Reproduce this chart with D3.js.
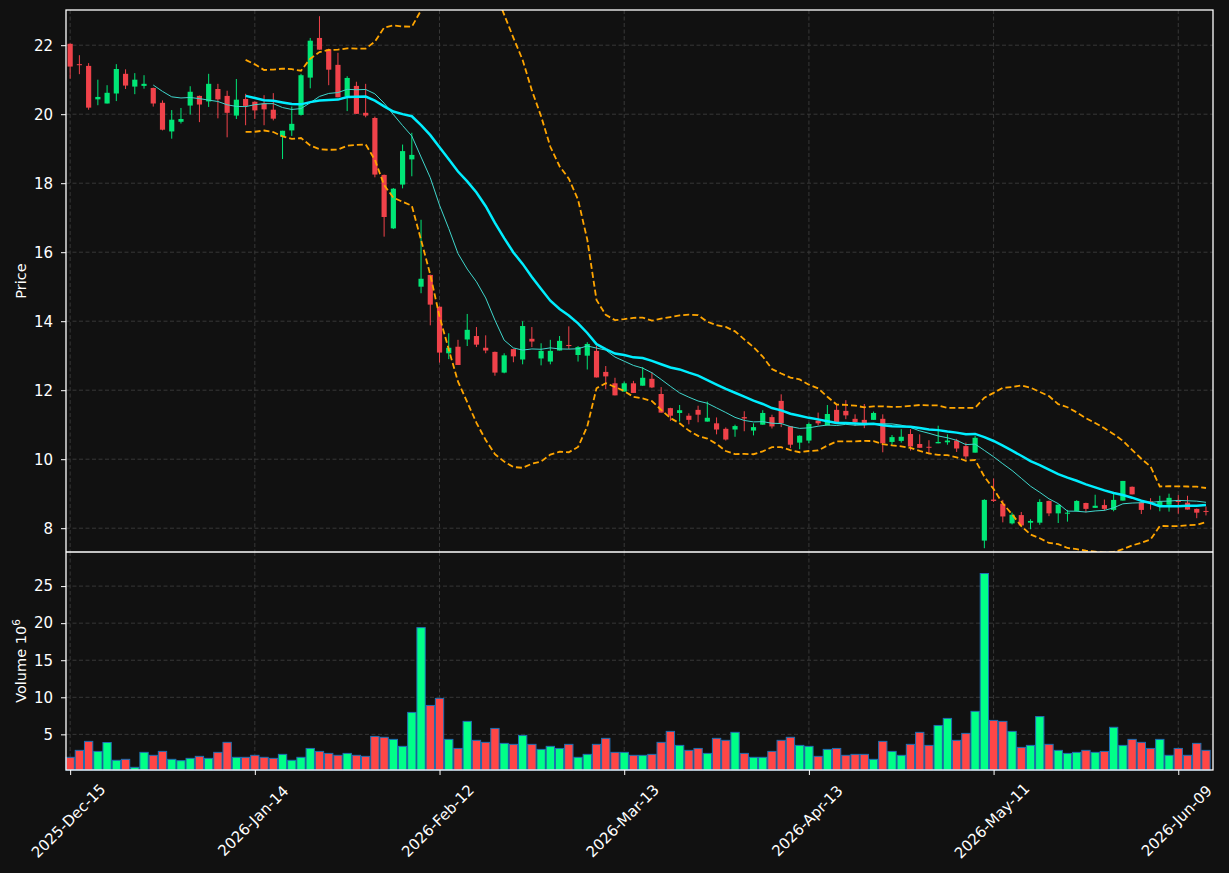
<!DOCTYPE html>
<html>
<head>
<meta charset="utf-8">
<script src="https://cdn.jsdelivr.net/npm/d3@7"></script>
<style>
  body { margin: 0; background: #111111; }
  svg text { font-family: "DejaVu Sans", sans-serif; }
</style>
</head>
<body>
<div id="chart"></div>
<script>
// OHLC, one entry per trading bar
const openPx = [22.04, 21.45, 21.40, 20.43, 20.31, 20.60, 21.17, 20.80, 20.82, 20.76,
  20.33, 19.50, 19.78, 20.25, 20.53, 20.37, 20.73, 20.53, 19.96, 20.44,
  20.36, 20.31, 20.13, 19.35, 19.53, 19.98, 21.06, 22.21, 21.88, 21.43,
  20.52, 20.82, 20.04, 19.89, 18.24, 16.69, 17.96, 18.69, 15.00, 15.34,
  14.42, 13.07, 13.26, 13.47, 13.57, 13.23, 13.11, 12.51, 13.19, 12.89,
  13.49, 12.92, 12.83, 13.15, 13.31, 13.02, 13.00, 13.14, 12.53, 12.20,
  11.96, 12.20, 12.13, 12.33, 11.89, 11.48, 11.34, 11.26, 11.43, 11.09,
  11.04, 10.88, 10.86, 11.22, 10.83, 11.00, 11.22, 11.69, 10.95, 10.48,
  10.54, 11.12, 10.98, 11.43, 11.40, 11.17, 11.14, 11.14, 11.17, 10.50,
  10.53, 10.73, 10.44, 10.36, 10.46, 10.49, 10.54, 10.38, 10.19, 7.64,
  8.83, 8.71, 8.14, 8.38, 8.16, 8.16, 8.79, 8.43, 8.42, 8.50,
  8.73, 8.59, 8.67, 8.53, 8.80, 9.20, 8.74, 8.78, 8.65, 8.68,
  8.81, 8.74, 8.56, 8.50];
const highPx = [22.05, 21.71, 21.48, 21.00, 20.84, 21.45, 21.30, 21.19, 21.13, 20.77,
  20.40, 20.12, 20.18, 20.81, 20.54, 21.17, 20.88, 20.68, 21.02, 20.59,
  20.37, 20.55, 20.61, 19.52, 20.22, 21.17, 22.21, 22.84, 21.90, 21.78,
  21.10, 20.94, 20.88, 19.93, 18.25, 17.86, 19.12, 19.46, 16.94, 15.35,
  14.43, 13.65, 13.46, 14.21, 13.83, 13.59, 13.12, 13.07, 13.20, 14.00,
  13.83, 13.36, 13.46, 13.57, 13.85, 13.28, 13.39, 13.28, 12.70, 12.36,
  12.25, 12.27, 12.67, 12.52, 12.09, 11.49, 11.57, 11.33, 11.55, 11.67,
  11.21, 10.92, 11.00, 11.39, 11.04, 11.42, 11.29, 11.88, 10.96, 10.69,
  11.06, 11.35, 11.57, 11.59, 11.71, 11.30, 11.60, 11.38, 11.30, 10.70,
  10.87, 10.87, 10.72, 10.55, 10.97, 10.72, 10.59, 10.48, 10.68, 8.84,
  9.44, 8.82, 8.45, 8.47, 8.26, 8.84, 8.80, 8.69, 8.53, 8.81,
  8.74, 8.97, 8.83, 9.00, 9.37, 9.21, 8.81, 8.87, 8.94, 9.00,
  8.96, 8.94, 8.57, 8.63];
const lowPx = [21.03, 21.16, 20.13, 20.26, 20.31, 20.38, 20.73, 20.58, 20.74, 20.22,
  19.53, 19.29, 19.73, 19.99, 19.77, 20.21, 19.88, 19.33, 19.86, 19.68,
  19.86, 19.68, 19.82, 18.70, 19.37, 19.96, 20.75, 21.87, 20.84, 20.49,
  20.09, 20.01, 19.91, 18.17, 16.45, 16.67, 17.85, 18.20, 14.81, 13.88,
  12.80, 12.90, 12.73, 13.28, 13.25, 13.07, 12.42, 12.49, 12.81, 12.75,
  13.25, 12.72, 12.75, 13.15, 13.19, 12.83, 12.60, 12.37, 12.03, 11.85,
  11.96, 11.92, 12.13, 12.06, 11.35, 11.11, 11.09, 11.01, 11.07, 11.09,
  10.72, 10.54, 10.65, 10.81, 10.69, 11.00, 10.89, 10.93, 10.32, 10.29,
  10.46, 10.98, 10.98, 11.04, 11.16, 10.96, 10.90, 11.14, 10.20, 10.39,
  10.48, 10.25, 10.33, 10.14, 10.46, 10.42, 10.21, 10.01, 10.19, 7.42,
  8.76, 8.17, 8.11, 8.08, 7.97, 8.10, 8.35, 8.15, 8.19, 8.48,
  8.46, 8.59, 8.51, 8.49, 8.80, 8.98, 8.41, 8.54, 8.49, 8.48,
  8.42, 8.54, 8.29, 8.37];
const closePx = [21.38, 21.42, 20.19, 20.50, 20.62, 21.31, 20.83, 21.00, 20.88, 20.31,
  19.55, 19.84, 19.86, 20.65, 20.28, 20.88, 20.43, 20.04, 20.42, 20.24,
  20.11, 20.14, 19.87, 19.52, 19.72, 21.13, 22.13, 21.87, 21.29, 20.49,
  21.05, 20.01, 19.96, 18.25, 17.02, 17.84, 18.93, 18.82, 15.23, 14.48,
  13.09, 13.23, 12.73, 13.75, 13.32, 13.15, 12.51, 13.01, 12.98, 13.86,
  13.41, 13.14, 13.14, 13.43, 13.28, 13.25, 13.34, 12.37, 12.40, 11.85,
  12.20, 11.92, 12.36, 12.08, 11.35, 11.26, 11.42, 11.14, 11.29, 11.20,
  10.86, 10.57, 10.96, 11.18, 10.93, 11.34, 10.95, 11.04, 10.42, 10.68,
  11.02, 11.04, 11.31, 11.04, 11.27, 11.07, 11.04, 11.34, 10.46, 10.64,
  10.65, 10.37, 10.33, 10.34, 10.50, 10.54, 10.31, 10.08, 10.62, 8.82,
  8.79, 8.34, 8.39, 8.08, 8.21, 8.76, 8.43, 8.68, 8.45, 8.79,
  8.56, 8.65, 8.56, 8.82, 9.37, 8.98, 8.53, 8.74, 8.77, 8.88,
  8.76, 8.54, 8.45, 8.48];
// volume in millions
const volume = [1.90, 2.84, 4.05, 2.70, 3.90, 1.50, 1.63, 0.55, 2.57, 2.17,
  2.70, 1.63, 1.45, 1.76, 2.03, 1.76, 2.57, 3.92, 1.90, 1.90,
  2.17, 1.90, 1.76, 2.30, 1.50, 1.90, 3.10, 2.70, 2.43, 2.17,
  2.43, 2.17, 2.03, 4.72, 4.60, 4.32, 3.38, 7.96, 19.40, 8.90,
  9.85, 4.32, 3.10, 6.75, 4.19, 3.92, 5.80, 3.78, 3.65, 4.86,
  3.65, 2.97, 3.38, 3.10, 3.65, 1.90, 2.30, 3.65, 4.46, 2.57,
  2.57, 2.17, 2.17, 2.30, 3.92, 5.40, 3.51, 2.84, 3.10, 2.43,
  4.46, 4.19, 5.27, 2.43, 1.90, 1.90, 2.70, 4.19, 4.60, 3.51,
  3.38, 2.03, 2.97, 3.10, 2.17, 2.30, 2.30, 1.63, 4.05, 2.70,
  2.17, 3.65, 5.27, 3.51, 6.20, 7.15, 4.19, 5.13, 8.10, 26.70,
  6.88, 6.75, 5.40, 3.24, 3.51, 7.40, 3.65, 2.84, 2.43, 2.57,
  2.84, 2.57, 2.70, 5.95, 3.51, 4.32, 3.92, 3.10, 4.32, 2.17,
  3.10, 2.17, 3.78, 2.84];

const tickIndex = [0, 20, 40, 60, 80, 100, 120];
const tickLabels = ['2025-Dec-15', '2026-Jan-14', '2026-Feb-12', '2026-Mar-13',
  '2026-Apr-13', '2026-May-11', '2026-Jun-09'];
const priceTicks = [8, 10, 12, 14, 16, 18, 20, 22];
const volumeTicks = [5, 10, 15, 20, 25];

const upColor = '#00e676';
const downColor = '#f0424a';
const volUp = '#00ff88';
const volDown = '#ff4646';

const width = 1229, height = 873;
const plot = {left: 66, right: 1213};
const pricePanel = {top: 10, bottom: 552};
const volPanel = {top: 552, bottom: 770};

const svg = d3.select('#chart').append('svg')
  .attr('width', width)
  .attr('height', height)
  .style('background', '#111111');

// scales (x is bar index, like mplfinance)
const x = d3.scaleLinear().domain([-0.45, 123.76]).range([plot.left, plot.right]);
const yPrice = d3.scaleLinear().domain([7.31, 23.02]).range([pricePanel.bottom, pricePanel.top]);
const yVol = d3.scaleLinear().domain([0.19, 29.6]).range([volPanel.bottom, volPanel.top]);
const step = x(1) - x(0);

// moving averages + bollinger bands from the closes
function rolling(values, n, fn) {
  return values.map((v, i) => i < n - 1 ? null : fn(values.slice(i - n + 1, i + 1)));
}
const sma10 = rolling(closePx, 10, d3.mean);
const sma20 = rolling(closePx, 20, d3.mean);
const sd20 = rolling(closePx, 20, d3.deviation);
const bbUpper = sma20.map((m, i) => m == null ? null : m + 2 * sd20[i]);
const bbLower = sma20.map((m, i) => m == null ? null : m - 2 * sd20[i]);

svg.append('defs').append('clipPath').attr('id', 'priceClip')
  .append('rect')
  .attr('x', plot.left).attr('y', pricePanel.top)
  .attr('width', plot.right - plot.left)
  .attr('height', pricePanel.bottom - pricePanel.top);

// grid
function drawGrid(yScale, ticks, panel) {
  const g = svg.append('g')
    .attr('stroke', '#3c3c3c')
    .attr('stroke-width', 0.9)
    .attr('stroke-dasharray', '4,2.5');
  g.selectAll('.h').data(ticks).enter().append('line')
    .attr('x1', plot.left).attr('x2', plot.right)
    .attr('y1', d => yScale(d)).attr('y2', d => yScale(d));
  g.selectAll('.v').data(tickIndex).enter().append('line')
    .attr('x1', d => x(d)).attr('x2', d => x(d))
    .attr('y1', panel.top).attr('y2', panel.bottom);
}
drawGrid(yPrice, priceTicks, pricePanel);
drawGrid(yVol, volumeTicks, volPanel);

const idx = d3.range(closePx.length);
const isUp = i => closePx[i] >= openPx[i];

// volume bars
svg.append('g').selectAll('rect').data(idx).enter().append('rect')
  .attr('x', i => x(i) - step * 0.45)
  .attr('width', step * 0.9)
  .attr('y', i => yVol(volume[i]))
  .attr('height', i => volPanel.bottom - yVol(volume[i]))
  .attr('fill', i => isUp(i) ? volUp : volDown)
  .attr('stroke', '#1f6fb4')
  .attr('stroke-width', 1);

// candles
const candles = svg.append('g').attr('clip-path', 'url(#priceClip)');
candles.selectAll('line').data(idx).enter().append('line')
  .attr('x1', i => x(i)).attr('x2', i => x(i))
  .attr('y1', i => yPrice(highPx[i])).attr('y2', i => yPrice(lowPx[i]))
  .attr('stroke', i => isUp(i) ? upColor : downColor)
  .attr('stroke-width', 1);
candles.selectAll('rect').data(idx).enter().append('rect')
  .attr('x', i => x(i) - step * 0.28)
  .attr('width', step * 0.56)
  .attr('y', i => yPrice(Math.max(openPx[i], closePx[i])))
  .attr('height', i => Math.max(1, Math.abs(yPrice(openPx[i]) - yPrice(closePx[i]))))
  .attr('fill', i => isUp(i) ? upColor : downColor);

// indicator lines
const lineGen = d3.line()
  .defined(d => d != null)
  .x((d, i) => x(i))
  .y(d => yPrice(d));
const lines = svg.append('g').attr('clip-path', 'url(#priceClip)').attr('fill', 'none');
lines.append('path').attr('d', lineGen(sma10))
  .attr('stroke', '#3fd6cc').attr('stroke-width', 1);
lines.append('path').attr('d', lineGen(sma20))
  .attr('stroke', '#00eeff').attr('stroke-width', 2.5);
[bbUpper, bbLower].forEach(band => {
  lines.append('path').attr('d', lineGen(band))
    .attr('stroke', '#ffa500').attr('stroke-width', 1.8)
    .attr('stroke-dasharray', '6,3');
});

// spines
svg.append('rect')
  .attr('x', plot.left).attr('y', pricePanel.top)
  .attr('width', plot.right - plot.left).attr('height', volPanel.bottom - pricePanel.top)
  .attr('fill', 'none').attr('stroke', '#ffffff').attr('stroke-width', 1.3);
svg.append('line')
  .attr('x1', plot.left).attr('x2', plot.right)
  .attr('y1', pricePanel.bottom).attr('y2', pricePanel.bottom)
  .attr('stroke', '#ffffff').attr('stroke-width', 1.3);

// axes
function styleAxis(g) {
  g.select('.domain').remove();
  g.selectAll('.tick line').attr('stroke', '#ffffff');
  g.selectAll('.tick text').attr('fill', '#ffffff').style('font-size', '15px')
    .style('font-family', '"DejaVu Sans", sans-serif');
}
svg.append('g')
  .attr('transform', 'translate(' + plot.left + ',0)')
  .call(d3.axisLeft(yPrice).tickValues(priceTicks).tickSize(5).tickPadding(8))
  .call(styleAxis);
svg.append('g')
  .attr('transform', 'translate(' + plot.left + ',0)')
  .call(d3.axisLeft(yVol).tickValues(volumeTicks).tickSize(5).tickPadding(8))
  .call(styleAxis);
const xAxis = svg.append('g')
  .attr('transform', 'translate(0,' + volPanel.bottom + ')')
  .call(d3.axisBottom(x).tickValues(tickIndex).tickFormat((d, i) => tickLabels[i]).tickSize(5))
  .call(styleAxis);
xAxis.selectAll('.tick text')
  .attr('y', null).attr('dy', null)
  .attr('text-anchor', 'middle')
  .attr('dominant-baseline', 'central')
  .attr('transform', 'translate(-2,51) rotate(-45)');

// axis labels
svg.append('text')
  .attr('transform', 'translate(26,' + ((pricePanel.top + pricePanel.bottom) / 2) + ') rotate(-90)')
  .attr('text-anchor', 'middle')
  .attr('fill', '#ffffff').style('font-size', '14.5px')
  .text('Price');
const volLabel = svg.append('text')
  .attr('transform', 'translate(26,' + ((volPanel.top + volPanel.bottom) / 2) + ') rotate(-90)')
  .attr('text-anchor', 'middle')
  .attr('fill', '#ffffff').style('font-size', '14.5px');
volLabel.append('tspan').text('Volume  10');
volLabel.append('tspan').attr('dy', -6).style('font-size', '10.5px').text('6');
</script>
</body>
</html>
